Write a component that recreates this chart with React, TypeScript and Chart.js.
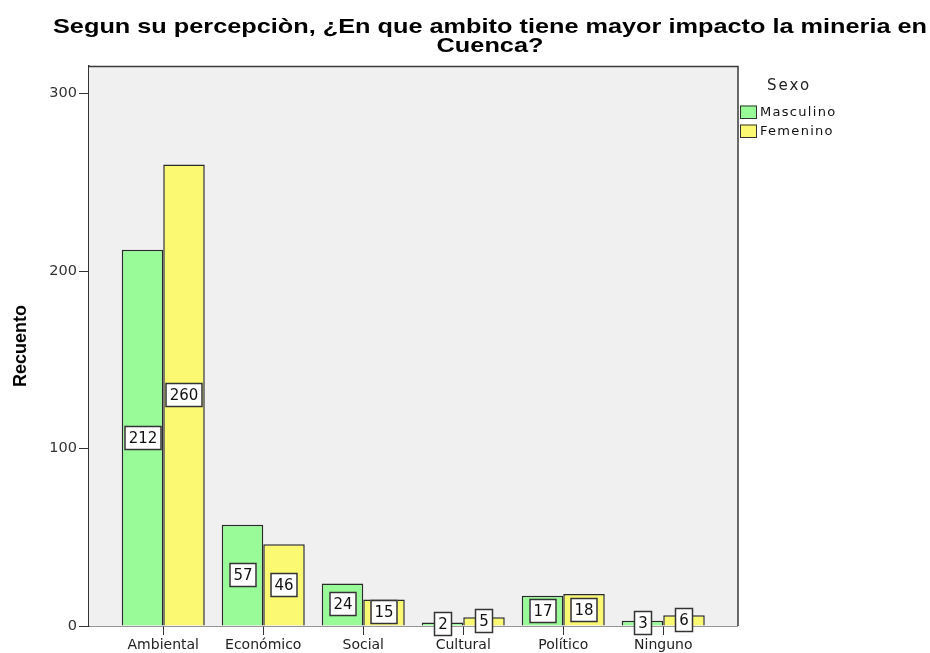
import React, { useEffect, useRef } from 'react';
import { Chart, registerables } from 'chart.js';

Chart.register(...registerables);

const categories = ['Ambiental', 'Económico', 'Social', 'Cultural', 'Político', 'Ninguno'];
const masculino = [212, 57, 24, 2, 17, 3];
const femenino = [260, 46, 15, 5, 18, 6];
const seriesNames = ['Masculino', 'Femenino'];
const seriesColors = ['#98FB98', '#FBF872'];
const yTickValues = [0, 100, 200, 300];
const legendTitle = 'Sexo';
const titleLines = [
  'Segun su percepciòn, ¿En que ambito tiene mayor impacto la mineria en',
  'Cuenca?',
];
const yAxisTitle = 'Recuento';

const W = 930;
const H = 653;

const framePlugin = {
  id: 'frame',
  beforeDatasetsDraw(chart: any) {
    const { ctx, chartArea: a } = chart;
    ctx.save();
    ctx.fillStyle = '#F0F0F0';
    ctx.fillRect(a.left, a.top, a.right - a.left, a.bottom - a.top);
    ctx.restore();
  },
  afterDraw(chart: any) {
    const { ctx, chartArea: a } = chart;
    ctx.save();
    ctx.strokeStyle = '#3a3a3a';
    ctx.lineWidth = 1.5;
    ctx.beginPath();
    ctx.moveTo(a.left, a.top + 0.5);
    ctx.lineTo(a.right + 0.5, a.top + 0.5);
    ctx.lineTo(a.right + 0.5, a.bottom);
    ctx.stroke();
    ctx.restore();
  },
};

const labelPlugin = {
  id: 'valueLabels',
  afterDatasetsDraw(chart: any) {
    const { ctx } = chart;
    ctx.save();
    ctx.font = '15px "DejaVu Sans"';
    ctx.textAlign = 'center';
    ctx.textBaseline = 'middle';
    chart.data.datasets.forEach((ds: any, di: number) => {
      const meta = chart.getDatasetMeta(di);
      meta.data.forEach((el: any, i: number) => {
        const v = ds.data[i].y;
        const txt = String(v);
        const cx = Math.round(el.x);
        const cy = Math.round((el.y + el.base) / 2);
        const tw = ctx.measureText(txt).width;
        const bw = Math.round(tw + 8);
        const bh = 24;
        const x0 = cx - bw / 2;
        const y0 = cy - bh / 2;
        ctx.fillStyle = '#FFFFFF';
        ctx.fillRect(x0, y0, bw, bh);
        ctx.strokeStyle = '#333';
        ctx.lineWidth = 1.5;
        ctx.strokeRect(x0 + 0.5, y0 + 0.5, bw - 1, bh - 1);
        ctx.fillStyle = '#111';
        ctx.fillText(txt, cx, cy + 1);
      });
    });
    ctx.restore();
  },
};

const titleLegendPlugin = {
  id: 'titleLegend',
  afterDraw(chart: any) {
    const { ctx } = chart;
    // Title (horizontally stretched like the source rendering)
    ctx.save();
    ctx.fillStyle = '#000';
    ctx.textBaseline = 'alphabetic';
    ctx.textAlign = 'center';
    ctx.font = 'bold 21px "Liberation Sans"';
    const w0 = ctx.measureText(titleLines[0]).width;
    const sx = 874 / w0;
    titleLines.forEach((line, i) => {
      ctx.save();
      ctx.translate(490, 33 + i * 19);
      ctx.scale(sx, 1);
      ctx.fillText(line, 0, 0);
      ctx.restore();
    });
    ctx.restore();

    // Legend
    ctx.save();
    ctx.textBaseline = 'middle';
    ctx.textAlign = 'left';
    ctx.fillStyle = '#222';
    ctx.font = '15px "DejaVu Sans"';
    (ctx as any).letterSpacing = '2px';
    ctx.fillText(legendTitle, 767, 86);
    ctx.font = '13px "DejaVu Sans"';
    (ctx as any).letterSpacing = '1.3px';
    chart.data.datasets.forEach((ds: any, i: number) => {
      const by = 105.5 + i * 19;
      ctx.fillStyle = ds.backgroundColor;
      ctx.fillRect(740, by, 17, 13.5);
      ctx.strokeStyle = '#333';
      ctx.lineWidth = 1;
      ctx.strokeRect(740.5, by + 0.5, 16, 12.5);
      ctx.fillStyle = '#111';
      ctx.fillText(ds.label, 760, by + 7);
    });
    ctx.restore();
  },
};

export default function App() {
  const ref = useRef<HTMLCanvasElement | null>(null);

  useEffect(() => {
    document.body.style.margin = '0';
    if (!ref.current) return;
    const chart = new Chart(ref.current, {
      type: 'bar',
      data: {
        datasets: [
          {
            label: seriesNames[0],
            data: masculino.map((v, i) => ({ x: i, y: v })),
            backgroundColor: seriesColors[0],
            borderColor: '#2a2a2a',
            borderWidth: 1.5,
            categoryPercentage: 0.83,
            barPercentage: 1,
          },
          {
            label: seriesNames[1],
            data: femenino.map((v, i) => ({ x: i, y: v })),
            backgroundColor: seriesColors[1],
            borderColor: '#2a2a2a',
            borderWidth: 1.5,
            categoryPercentage: 0.83,
            barPercentage: 1,
          },
        ],
      },
      options: {
        responsive: false,
        animation: false,
        devicePixelRatio: 1,
        layout: { padding: { top: 66, right: 192.5, bottom: 0, left: 0 } },
        plugins: {
          legend: { display: false },
          title: { display: false },
          tooltip: { enabled: false },
        },
        scales: {
          x: {
            type: 'linear',
            min: -0.7425,
            max: 5.7425,
            offset: false,
            grid: {
              offset: false,
              drawOnChartArea: false,
              drawTicks: true,
              tickLength: 9,
              tickColor: '#333',
            },
            border: { display: true, color: '#333', width: 1.5 },
            afterBuildTicks: (scale: any) => {
              scale.ticks = categories.map((_, i) => ({ value: i }));
            },
            afterFit: (scale: any) => {
              scale.height = 27;
            },
            ticks: {
              autoSkip: false,
              maxRotation: 0,
              padding: 2,
              color: '#222',
              font: { family: '"DejaVu Sans"', size: 14 },
              callback: (v: any) => categories[v] ?? '',
            },
          },
          y: {
            min: 0,
            max: 315.5,
            grid: {
              drawOnChartArea: false,
              drawTicks: true,
              tickLength: 10,
              tickColor: '#333',
            },
            border: { display: true, color: '#333', width: 1.5 },
            afterBuildTicks: (scale: any) => {
              scale.ticks = yTickValues.map((v) => ({ value: v }));
            },
            afterFit: (scale: any) => {
              scale.width = 89;
            },
            ticks: {
              padding: 2,
              color: '#333',
              font: { family: '"DejaVu Sans"', size: 14.5 },
            },
            title: {
              display: true,
              text: yAxisTitle,
              color: '#000',
              font: { family: '"Liberation Sans"', size: 18, weight: 'bold' },
              padding: { top: 10, bottom: 0 },
            },
          },
        },
      },
      plugins: [framePlugin, labelPlugin, titleLegendPlugin],
    } as any);
    return () => chart.destroy();
  }, []);

  return (
    <div style={{ width: W, height: H }}>
      <canvas ref={ref} width={W} height={H} style={{ display: 'block', width: W, height: H }} />
    </div>
  );
}
